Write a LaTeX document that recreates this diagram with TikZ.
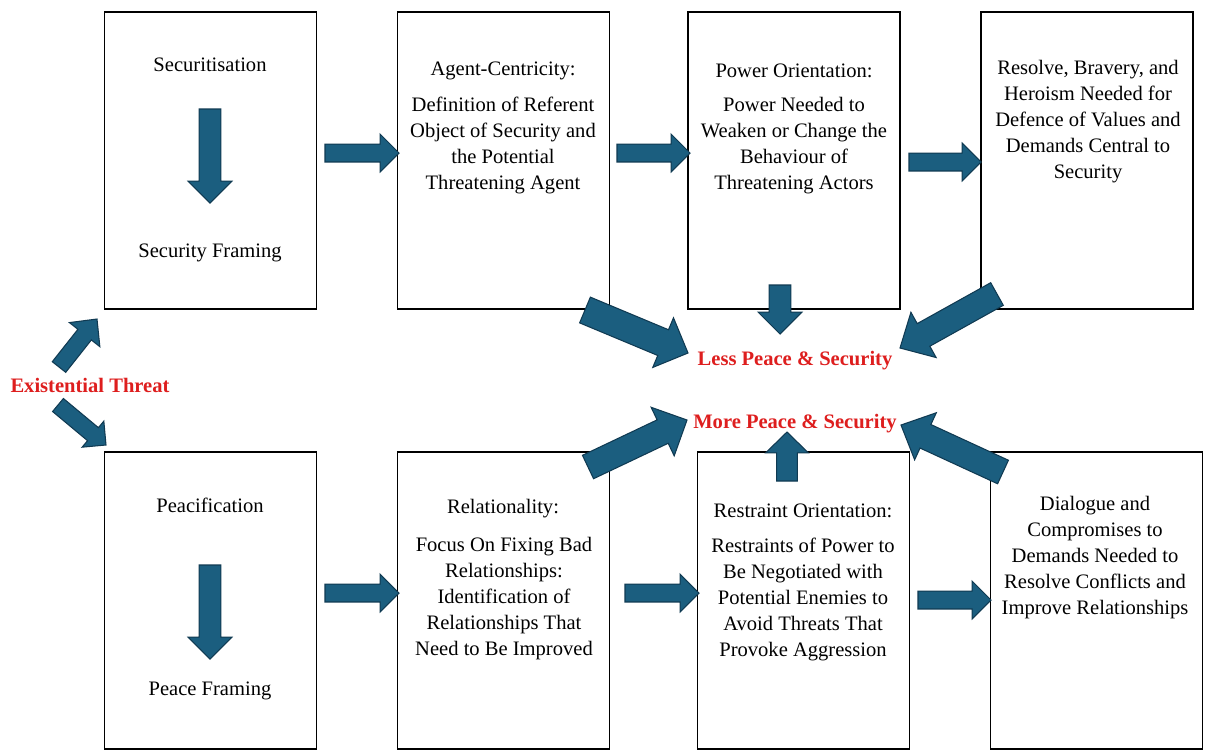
\documentclass[tikz,border=0pt]{standalone}
\usepackage{fontspec}
\setmainfont{Liberation Serif}
\usetikzlibrary{calc}
\definecolor{arrfill}{RGB}{27,94,127}
\definecolor{arrline}{RGB}{16,58,82}
\definecolor{redtxt}{RGB}{222,30,30}
\tikzset{
 boxst/.style={draw=black, line width=0.75pt, minimum width=4.24cm, minimum height=5.94cm, inner sep=0pt},
 blockarrow/.style={fill=arrfill, draw=arrline, line width=0.6pt, line join=miter},
 txt/.style={align=center, font=\fontsize{11.7pt}{14.74pt}\selectfont, inner sep=0pt, yshift=-0.05cm},
 redlbl/.style={font=\fontsize{11.7pt}{14.74pt}\selectfont\bfseries, text=redtxt, inner sep=0pt, yshift=-0.055cm},
}
% block arrow from named coordinate #1 (tail) to #2 (tip);
% #3 shaft half width, #4 head half width, #5 head length (in px)
\newcommand{\blockarr}[5]{%
  \path[blockarrow] let \p1=(#1), \p2=(#2),
     \n1={atan2(\y2-\y1,\x2-\x1)},
     \n2={veclen(\x2-\x1,\y2-\y1)-#5*0.5669pt},
     \n3={#3*0.5669pt}, \n4={#4*0.5669pt} in
   ($(\p1)+(\n1+90:\n3)$)
   -- ($(\p1)+(\n1:\n2)+(\n1+90:\n3)$)
   -- ($(\p1)+(\n1:\n2)+(\n1+90:\n4)$)
   -- (\p2)
   -- ($(\p1)+(\n1:\n2)+(\n1-90:\n4)$)
   -- ($(\p1)+(\n1:\n2)+(\n1-90:\n3)$)
   -- ($(\p1)+(\n1-90:\n3)$) -- cycle;
}
\begin{document}
\begin{tikzpicture}[x=0.02cm,y=-0.02cm]
\useasboundingbox[fill=white] (0,0) rectangle (1213,755);

% boxes
\node[boxst] (b1) at (210.5,160.5) {};
\node[boxst] (b2) at (503.5,160.5) {};
\node[boxst] (b3) at (794,160.5) {};
\node[boxst] (b4) at (1087,160.5) {};
\node[boxst] (c1) at (210.5,600.5) {};
\node[boxst] (c2) at (503.5,600.5) {};
\node[boxst] (c3) at (803.5,600.5) {};
\node[boxst] (c4) at (1096.5,600.5) {};

% red labels
\node[redlbl] (exist) at (90,383) {Existential Threat};
\node[redlbl] (less) at (795,358) {Less Peace \& Security};
\node[redlbl] (more) at (795,421) {More Peace \& Security};

% arrow end points
\coordinate (a1s) at (325,153);  \coordinate (a1e) at (399,153);
\coordinate (a2s) at (617,153);  \coordinate (a2e) at (690,153);
\coordinate (a3s) at (909,162);  \coordinate (a3e) at (981,162);
\coordinate (d1s) at (325,593);  \coordinate (d1e) at (399,593);
\coordinate (d2s) at (625,593);  \coordinate (d2e) at (699,593);
\coordinate (d3s) at (918,600);  \coordinate (d3e) at (991,600);
\coordinate (v1s) at (210,109);  \coordinate (v1e) at (210,203);
\coordinate (v2s) at (210,565);  \coordinate (v2e) at (210,659);
\coordinate (ps) at (780,285);   \coordinate (pe) at (780,334);
\coordinate (us) at (787,481);   \coordinate (ue) at (787,432);
\coordinate (l1s) at (585,310);  \coordinate (l1e) at (688,353);
\coordinate (l2s) at (997,294);  \coordinate (l2e) at (900,348);
\coordinate (m1s) at (588,467);  \coordinate (m1e) at (687,420);
\coordinate (m2s) at (1003,472); \coordinate (m2e) at (901,425);
\coordinate (e1s) at (59,367);   \coordinate (e1e) at (97,319);
\coordinate (e2s) at (58,405);   \coordinate (e2e) at (106,445);

% block arrows
\blockarr{a1s}{a1e}{9}{19}{19}
\blockarr{a2s}{a2e}{9}{19}{19}
\blockarr{a3s}{a3e}{9}{19}{19}
\blockarr{d1s}{d1e}{9}{19}{19}
\blockarr{d2s}{d2e}{9}{19}{19}
\blockarr{d3s}{d3e}{9}{19}{19}
\blockarr{v1s}{v1e}{11}{22}{22}
\blockarr{v2s}{v2e}{11}{22}{22}
\blockarr{ps}{pe}{11}{22}{22}
\blockarr{us}{ue}{10.5}{21.5}{21}
\blockarr{l1s}{l1e}{14}{27}{27}
\blockarr{l2s}{l2e}{13}{26}{27}
\blockarr{m1s}{m1e}{13}{27}{27}
\blockarr{m2s}{m2e}{13}{26}{27}
\blockarr{e1s}{e1e}{8.6}{19.5}{20}
\blockarr{e2s}{e2e}{8.5}{17}{17}

% box texts
\node[txt] (t1a) at (210,62) {Securitisation};
\node[txt] (t1b) at (210,250) {Security Framing};
\node[txt] (t2a) at (503,68) {Agent-Centricity:};
\node[txt] (t2b) at (503,143) {Definition of Referent\\Object of Security and\\the Potential\\Threatening Agent};
\node[txt] (t3a) at (794,68) {Power Orientation:};
\node[txt] (t3b) at (794,143) {Power Needed to\\Weaken or Change the\\Behaviour of\\Threatening Actors};
\node[txt] (t4) at (1088,119) {Resolve, Bravery, and\\Heroism Needed for\\Defence of Values and\\Demands Central to\\Security};
\node[txt] (s1a) at (210,503) {Peacification};
\node[txt] (s1b) at (210,688) {Peace Framing};
\node[txt] (s2a) at (503,506) {Relationality:};
\node[txt] (s2b) at (504,596) {Focus On Fixing Bad\\Relationships:\\Identification of\\Relationships That\\Need to Be Improved};
\node[txt] (s3a) at (803,508) {Restraint Orientation:};
\node[txt] (s3b) at (803,597) {Restraints of Power to\\Be Negotiated with\\Potential Enemies to\\Avoid Threats That\\Provoke Aggression};
\node[txt] (s4) at (1095,555) {Dialogue and\\Compromises to\\Demands Needed to\\Resolve Conflicts and\\Improve Relationships};
\end{tikzpicture}
\end{document}
